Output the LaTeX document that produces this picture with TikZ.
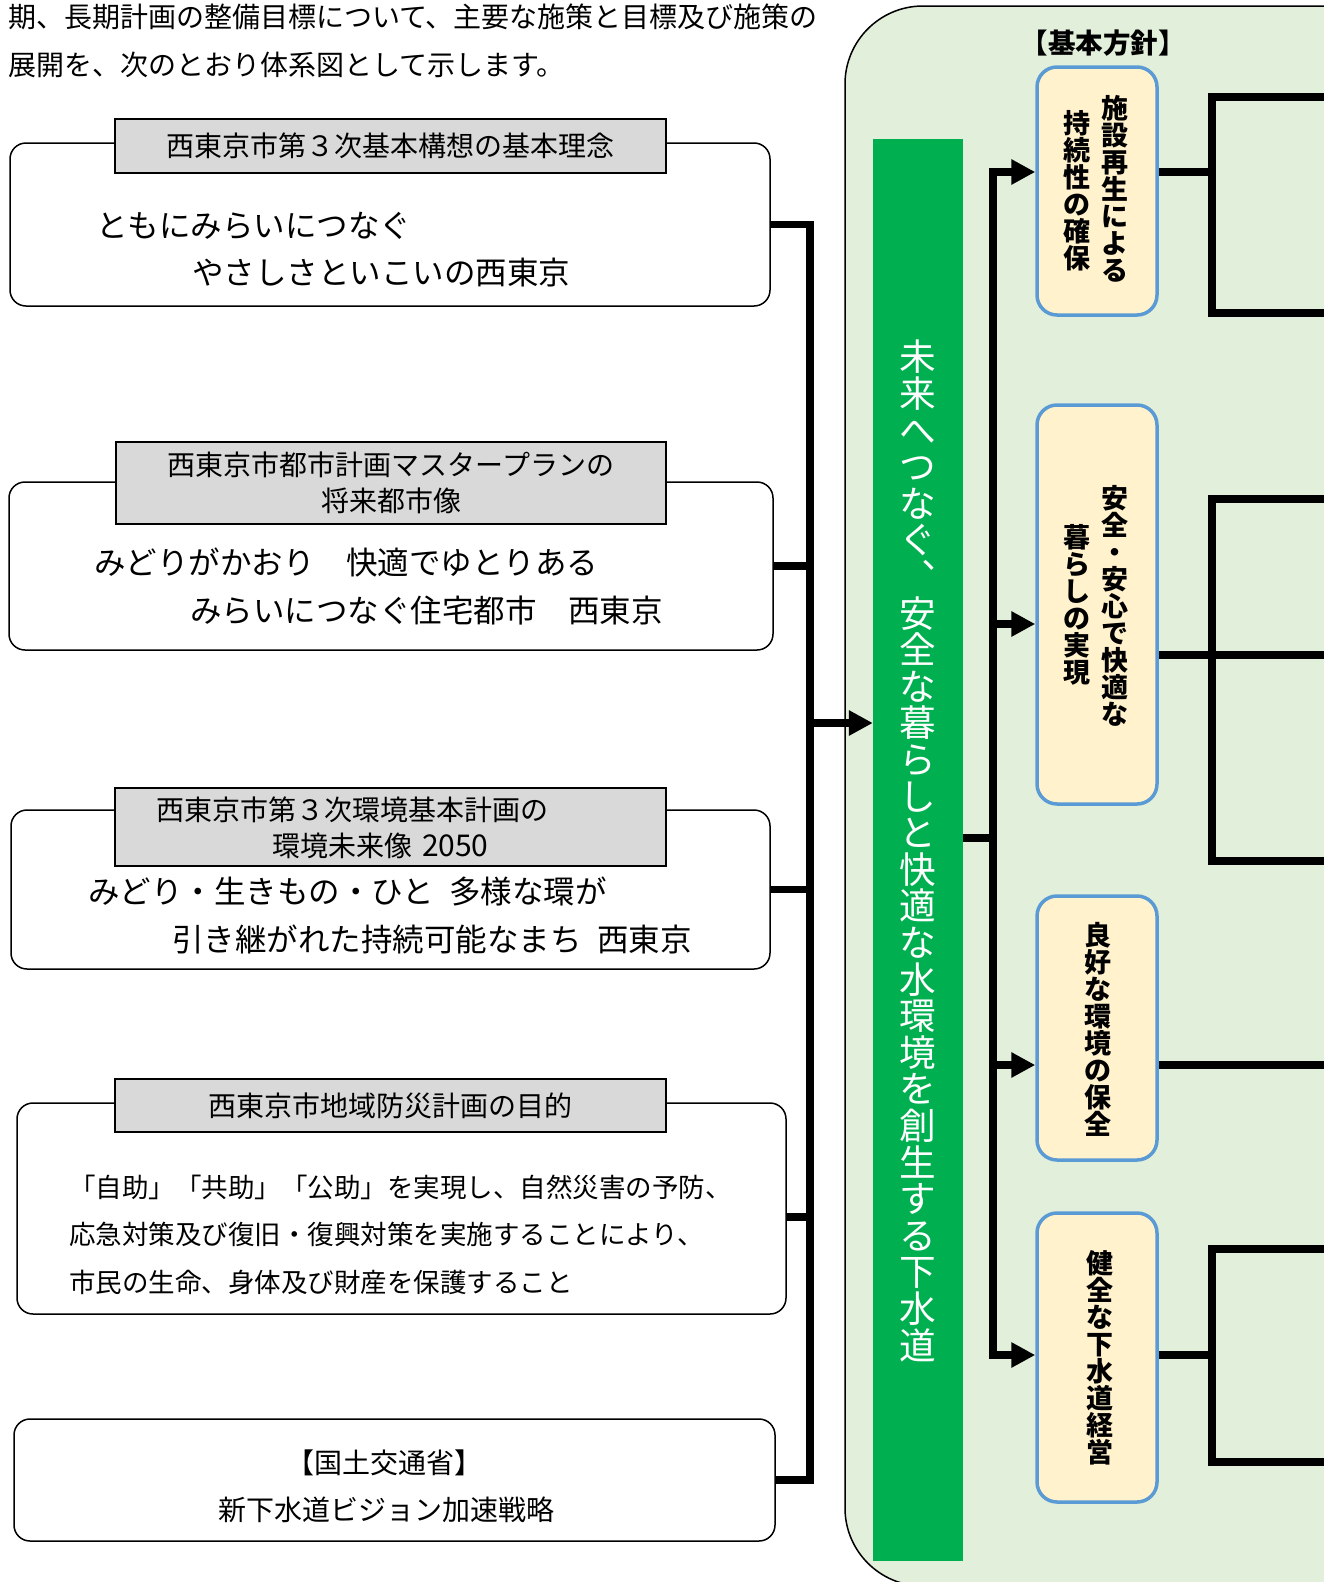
\documentclass[tikz,border=0pt]{standalone}
\usepackage{fontspec}
\setmainfont{Noto Sans CJK JP}
\newfontfamily\jp{Noto Sans CJK JP}
\usetikzlibrary{arrows.meta}
\definecolor{panelgreen}{HTML}{E2EFDA}
\definecolor{bargreen}{HTML}{00B050}
\definecolor{polfill}{HTML}{FFF2CC}
\definecolor{polline}{HTML}{5B9BD5}
\definecolor{titlegray}{HTML}{D9D9D9}
\newcommand{\fsz}[1]{\fontsize{#1}{#1}\selectfont}
\ExplSyntaxOn
\NewDocumentCommand\vstack{m}
  {
    \vbox
      {
        \lineskiplimit=-\maxdimen
        \tl_map_inline:nn {#1} { \hbox_to_wd:nn {1em} { \hss ##1 \hss } }
      }
  }
\ExplSyntaxOff
\begin{document}
\begin{tikzpicture}[x=1pt,y=-1pt,
  srcbox/.style={draw=black, line width=1.5pt, rounded corners=16pt, fill=white, inner sep=0pt},
  titlebox/.style={draw=black, line width=1.5pt, fill=titlegray, inner sep=0pt},
  polbox/.style={draw=polline, line width=3.5pt, fill=polfill, rounded corners=20pt, minimum width=120pt, inner sep=0pt},
  bus/.style={line width=7.5pt},
  tip/.style={-{Triangle[length=24pt,width=24pt]}},
  ltxt/.style={anchor=west, inner sep=0pt, font=\jp\fsz{31.5}},
  stxt/.style={anchor=west, inner sep=0pt, font=\jp\fsz{28}},
  dtxt/.style={anchor=west, inner sep=0pt, font=\jp\fsz{26.5}},
  vtxt/.style={inner sep=0pt, font=\jp\bfseries\fsz{27}}
]
\useasboundingbox (0,0) rectangle (1324,1582);
\fill[white] (0,0) rectangle (1324,1582);
\begin{scope}
\clip (0,0) rectangle (1324,1582);

% intro text
\node[stxt] (intro1) at (8,17) {期、長期計画の整備目標について、主要な施策と目標及び施策の};
\node[stxt] (intro2) at (8,65) {展開を、次のとおり体系図として示します。};

% green panel
\draw[fill=panelgreen, line width=1.5pt, rounded corners=78pt] (845,6) rectangle (1420,1586);
\node[fill=bargreen, minimum width=90pt, minimum height=1422pt, inner sep=0pt] (gbar) at (918,850) {};
\node[text=white, font=\jp\fsz{36.6}, inner sep=0pt] (gtext) at (918,851) {\vstack{未来へつなぐ︑安全な暮らしと快適な水環境を創生する下水道}};

% source boxes
\node[srcbox, minimum width=760pt, minimum height=163pt] (src1) at (390,224.5) {};
\node[titlebox, minimum width=551pt, minimum height=54pt, font=\jp\fsz{28}] (t1) at (390.5,146) {西東京市第３次基本構想の基本理念};
\node[ltxt] (b1a) at (96,226) {ともにみらいにつなぐ};
\node[ltxt] (b1b) at (192,273) {やさしさといこいの西東京};

\node[srcbox, minimum width=764pt, minimum height=168pt] (src2) at (391,566) {};
\node[titlebox, minimum width=550pt, minimum height=82pt, align=center, font=\jp\fontsize{28}{36}\selectfont] (t2) at (391,483) {西東京市都市計画マスタープランの\\将来都市像};
\node[ltxt] (b2a) at (94,562) {みどりがかおり　快適でゆとりある};
\node[ltxt] (b2b) at (190,610) {みらいにつなぐ住宅都市　西東京};

\node[srcbox, minimum width=759pt, minimum height=159pt] (src3) at (390.5,889.5) {};
\node[titlebox, minimum width=551pt, minimum height=78pt] (t3) at (390.5,827) {};
\node[stxt] (t3a) at (156,810) {西東京市第３次環境基本計画の};
\node[stxt] (t3b) at (272,846) {環境未来像\hspace{0.35em}{\fsz{30}2050}};
\node[ltxt] (b3a) at (88,891) {みどり・生きもの・ひと\hspace{0.5em}多様な環が};
\node[ltxt] (b3b) at (172,939) {引き継がれた持続可能なまち\hspace{0.5em}西東京};

\node[srcbox, minimum width=769pt, minimum height=211pt] (src4) at (401.5,1208.5) {};
\node[titlebox, minimum width=551pt, minimum height=53pt, font=\jp\fsz{28}] (t4) at (390.5,1105.5) {西東京市地域防災計画の目的};
\node[dtxt] (b4a) at (69,1187) {「自助」「共助」「公助」を実現し、自然災害の予防、};
\node[dtxt] (b4b) at (69,1234) {応急対策及び復旧・復興対策を実施することにより、};
\node[dtxt] (b4c) at (69,1282) {市民の生命、身体及び財産を保護すること};

\node[srcbox, minimum width=761pt, minimum height=122pt] (src5) at (394.5,1480) {};
\node[inner sep=0pt, font=\jp\fsz{28}] (b5a) at (384,1463) {【国土交通省】};
\node[inner sep=0pt, font=\jp\fsz{28}] (b5b) at (386,1510) {新下水道ビジョン加速戦略};

% left bus
\coordinate (busX) at (810,0);
\coordinate (c4) at ([yshift=-8.5pt]src4.east);
\coordinate (arrL) at (810,723);
\draw[bus] (src1.east) -- (src1.east -| busX) -- (src5.east -| busX) -- (src5.east);
\draw[bus] (src2.east) -- (src2.east -| busX);
\draw[bus] (src3.east) -- (src3.east -| busX);
\draw[bus] (c4) -- (c4 -| busX);
\draw[bus,tip] (arrL) -- (arrL -| gbar.west);

% policy boxes
\node[font=\jp\bfseries\fsz{27.5}, inner sep=0pt] (hd) at (1103,43) {【基本方針】};
\node[polbox, minimum height=248pt] (pA) at (1097,191) {};
\node[polbox, minimum height=399pt] (pB) at (1097,604.5) {};
\node[polbox, minimum height=264pt] (pC) at (1097,1028) {};
\node[polbox, minimum height=289pt] (pD) at (1097,1357.5) {};
\node[vtxt] (pAr) at (1115,189) {\vstack{施設再生による}};
\node[vtxt] (pAl) at (1077,191) {\vstack{持続性の確保}};
\node[vtxt] (pBr) at (1115,606) {\vstack{安全・安心で快適な}};
\node[vtxt] (pBl) at (1077,605) {\vstack{暮らしの実現}};
\node[vtxt] (pCt) at (1098,1029) {\vstack{良好な環境の保全}};
\node[vtxt] (pDt) at (1100,1358) {\vstack{健全な下水道経営}};

% right bus
\coordinate (ys) at (0,838);
\coordinate (aA) at (993,172);
\coordinate (aB) at (993,624);
\coordinate (aC) at (993,1065);
\coordinate (aD) at (993,1355);
\draw[bus] (gbar.east |- ys) -- (aA |- ys);
\draw[bus,{Triangle[length=24pt,width=24pt]}-{Triangle[length=24pt,width=24pt]}] (aA -| pA.west) -- (aA) -- (aD) -- (aD -| pD.west);
\draw[bus,tip] (aB) -- (aB -| pB.west);
\draw[bus,tip] (aC) -- (aC -| pC.west);

% right brackets
\coordinate (brX) at (1212,0);
\coordinate (edge) at (1340,0);
\coordinate (A1) at (1212,97);
\coordinate (A2) at (1212,313);
\coordinate (B1) at (1212,499);
\coordinate (B2) at (1212,861);
\coordinate (yb) at (0,655);
\coordinate (D1) at (1212,1249);
\coordinate (D2) at (1212,1462);
\draw[bus] (aA -| pA.east) -- (aA -| brX);
\draw[bus] (A1 -| edge) -- (A1) -- (A2) -- (A2 -| edge);
\draw[bus] (pB.east |- yb) -- (edge |- yb);
\draw[bus] (B1 -| edge) -- (B1) -- (B2) -- (B2 -| edge);
\draw[bus] (aC -| pC.east) -- (aC -| edge);
\draw[bus] (aD -| pD.east) -- (aD -| brX);
\draw[bus] (D1 -| edge) -- (D1) -- (D2) -- (D2 -| edge);
\end{scope}
\end{tikzpicture}
\end{document}
